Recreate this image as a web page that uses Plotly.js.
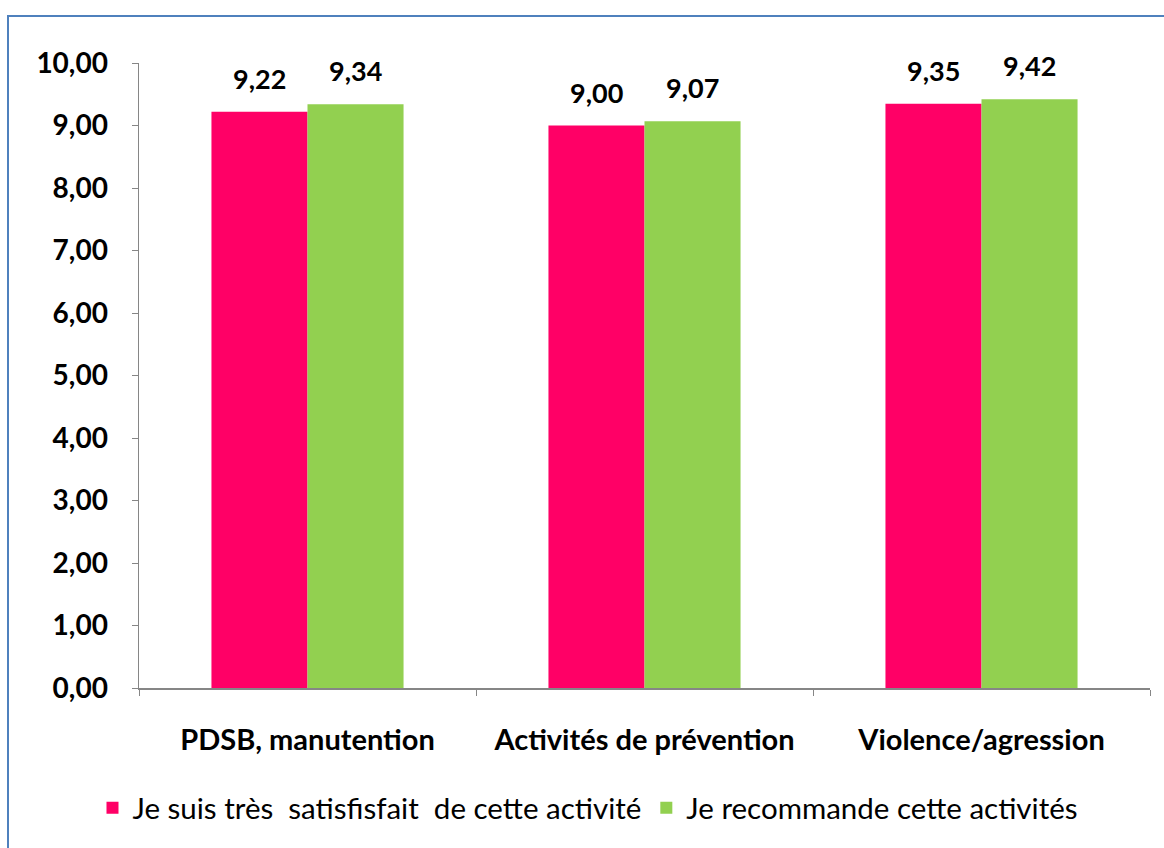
<!DOCTYPE html>
<html><head><meta charset="utf-8">
<script src="https://cdn.plot.ly/plotly-3.0.1.min.js"></script>
<style>
html,body{margin:0;padding:0;background:#fff;}
#frame{position:absolute;left:7px;top:15px;width:1200px;height:900px;border-left:2px solid #4F81BD;border-top:2px solid #4F81BD;box-sizing:border-box;}
#chart{position:absolute;left:0;top:0;width:1164px;height:848px;}
</style></head>
<body>
<div id="frame"></div>
<div id="chart"></div>
<script>
const categories = ["PDSB, manutention", "Activités de prévention", "Violence/agression"];
const seriesNames = ["Je suis très  satisfisfait  de cette activité", "Je recommande cette activités"];
const satisfait = [9.22, 9.00, 9.35];
const recommande = [9.34, 9.07, 9.42];
const yTicks = [0,1,2,3,4,5,6,7,8,9,10];

const FONT = "Lato, 'Open Sans', sans-serif";
const colors = ['#FF0066', '#92D050'];
const allSeries = [satisfait, recommande];
const traces = allSeries.map((vals, i) => ({
  type:'bar', x:categories, y:vals, name:seriesNames[i], marker:{color:colors[i]},
  hoverinfo:'none'
}));

const fmt = v => v.toFixed(2).replace('.', ',');
const annotations = [];
allSeries.forEach((vals, i) => {
  vals.forEach((v, j) => {
    annotations.push({x:categories[j], y:v, xref:'x', yref:'y', text:fmt(v), showarrow:false,
      xshift: i === 0 ? -48 : 48, yanchor:'bottom', yshift:15,
      font:{family:FONT, size:27, color:'#000', weight:'bold'}});
  });
});

const layout = {
  width:1164, height:848,
  paper_bgcolor:'rgba(0,0,0,0)', plot_bgcolor:'rgba(0,0,0,0)',
  separators:',.',
  margin:{l:139, r:14, t:63, b:160},
  barmode:'group', bargap:0.43, bargroupgap:0,
  font:{family:FONT, color:'#000'},
  showlegend:true,
  annotations: annotations,
  legend:{orientation:'h', x:-0.046, xanchor:'left', y:-0.192, yanchor:'middle',
    font:{family:FONT, size:29.5, color:'#000'}, itemwidth:30, traceorder:'normal'},
  xaxis:{type:'category', showline:true, linecolor:'#868686', linewidth:1.5,
    ticks:'outside', tickson:'boundaries', ticklen:6, tickcolor:'#868686',
    ticklabelstandoff:26,
    tickfont:{family:FONT, size:29, color:'#000', weight:'bold'}},
  yaxis:{range:[0,10], tickvals:yTicks, tickformat:'.2f', showgrid:false, zeroline:false,
    showline:true, linecolor:'#868686', linewidth:1.5,
    ticks:'outside', ticklen:6, tickcolor:'#868686', ticklabelstandoff:18,
    tickfont:{family:FONT, size:28, color:'#000', weight:'bold'}}
};
Plotly.newPlot('chart', traces, layout, {displayModeBar:false, staticPlot:true});
</script>
</body></html>
